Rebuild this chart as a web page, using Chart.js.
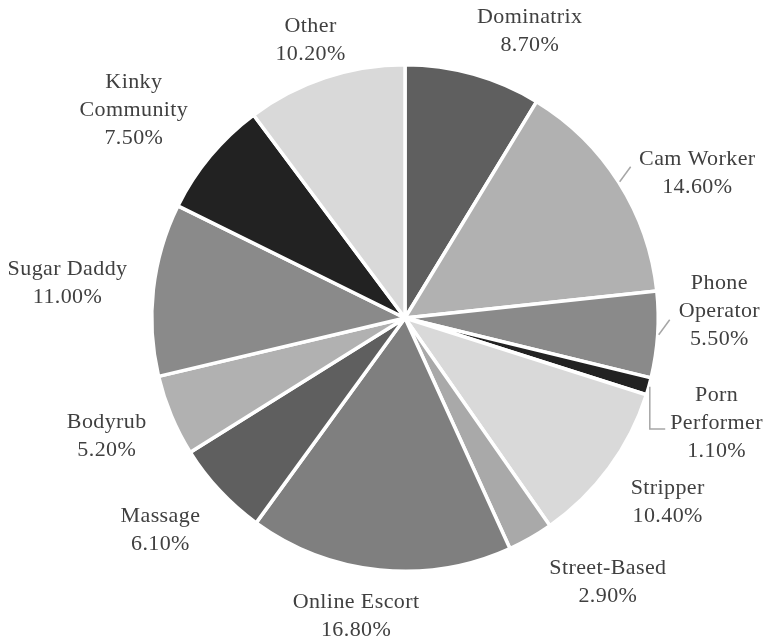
<!DOCTYPE html>
<html>
<head>
<meta charset="utf-8">
<script src="https://cdn.jsdelivr.net/npm/chart.js@4"></script>
<style>
  html, body { margin: 0; padding: 0; background: #fff; }
  #wrap { width: 768px; height: 639px; }
</style>
</head>
<body>
<div id="wrap"><canvas id="pieChart" width="768" height="639"></canvas></div>
<script>
const categories = ['Dominatrix', 'Cam Worker', 'Phone Operator', 'Porn Performer', 'Stripper', 'Street-Based',
  'Online Escort', 'Massage', 'Bodyrub', 'Sugar Daddy', 'Kinky Community', 'Other'];
const shares = [8.7, 14.6, 5.5, 1.1, 10.4, 2.9, 16.8, 6.1, 5.2, 11.0, 7.5, 10.2];
const sliceColors = ['#5f5f5f', '#b1b1b1', '#8a8a8a', '#222222', '#d9d9d9', '#a9a9a9',
  '#7f7f7f', '#5f5f5f', '#b1b1b1', '#8a8a8a', '#222222', '#d9d9d9'];
const wrapped = ['Phone Operator', 'Porn Performer', 'Kinky Community'];
const withLeader = ['Cam Worker', 'Phone Operator', 'Porn Performer'];
// small manual shifts of the label boxes (px), like a hand-placed label in the original
const labelShift = [[44, 1], [20, 28], [4, -27], [5, 19], [8, -3], [53, 1],
  [-19, 1], [-17, 0], [-9, -3], [-9, 3], [-13, 7], [0, 7]];

const FONT = '22px "Liberation Serif", "DejaVu Serif", serif';
const LINE_H = 28;
const GAP = 17;

const outsideLabels = {
  id: 'outsideLabels',
  afterDatasetsDraw(chart) {
    const ctx = chart.ctx;
    const meta = chart.getDatasetMeta(0);
    ctx.save();
    ctx.font = FONT;
    ctx.letterSpacing = '0.4px';
    ctx.fillStyle = '#404040';
    ctx.textAlign = 'center';
    ctx.textBaseline = 'middle';
    meta.data.forEach((arc, i) => {
      const name = categories[i];
      const lines = wrapped.includes(name) ? name.split(' ') : [name];
      lines.push(shares[i].toFixed(2) + '%');
      const w = Math.max(...lines.map(l => ctx.measureText(l).width));
      const h = lines.length * LINE_H;
      const mid = (arc.startAngle + arc.endAngle) / 2;
      const dx = Math.cos(mid), dy = Math.sin(mid);
      const r = arc.outerRadius;
      const ext = Math.min(w / 2 / Math.max(Math.abs(dx), 1e-6), h / 2 / Math.max(Math.abs(dy), 1e-6));
      const d = r + GAP + ext;
      const cx = arc.x + dx * d + labelShift[i][0];
      const cy = arc.y + dy * d + labelShift[i][1];
      lines.forEach((l, k) => {
        ctx.fillText(l, cx, cy - h / 2 + LINE_H / 2 + k * LINE_H);
      });
      if (withLeader.includes(name)) {
        ctx.strokeStyle = '#a6a6a6';
        ctx.lineWidth = 1.5;
        const sx = arc.x + dx * (r + 1), sy = arc.y + dy * (r + 1);
        ctx.beginPath();
        ctx.moveTo(sx, sy);
        if (name === 'Porn Performer') {
          ctx.lineTo(sx, cy + 6);
          ctx.lineTo(cx - w / 2 - 5, cy + 6);
        } else {
          ctx.lineTo(sx + 11, sy - 15);
        }
        ctx.stroke();
      }
    });
    ctx.restore();
  }
};

new Chart(document.getElementById('pieChart'), {
  type: 'pie',
  data: {
    labels: categories,
    datasets: [{
      data: shares,
      backgroundColor: sliceColors,
      borderColor: '#ffffff',
      borderWidth: 3.5
    }]
  },
  options: {
    responsive: false,
    animation: false,
    layout: { padding: { top: 63, bottom: 66, left: 150, right: 108 } },
    plugins: {
      legend: { display: false },
      tooltip: { enabled: false }
    }
  },
  plugins: [outsideLabels]
});
</script>
</body>
</html>
